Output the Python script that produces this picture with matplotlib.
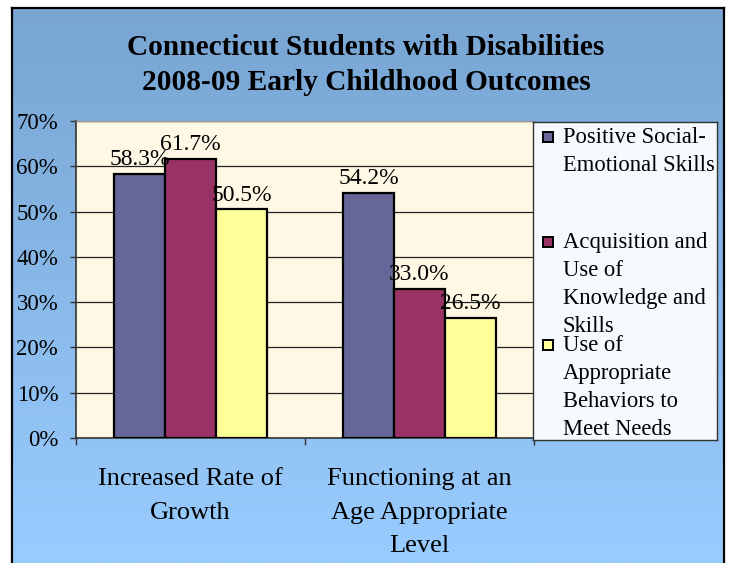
import numpy as np
import matplotlib.pyplot as plt
from matplotlib.patches import Rectangle

plt.rcParams['font.family'] = ['Liberation Serif', 'DejaVu Serif']

categories = ["Increased Rate of\nGrowth", "Functioning at an\nAge Appropriate\nLevel"]
series_names = ["Positive Social-\nEmotional Skills",
                "Acquisition and\nUse of\nKnowledge and\nSkills",
                "Use of\nAppropriate\nBehaviors to\nMeet Needs"]
social_emotional = [58.3, 54.2]
knowledge_skills = [61.7, 33.0]
appropriate_behaviors = [50.5, 26.5]
yticks = [0, 10, 20, 30, 40, 50, 60, 70]

colors = ["#666699", "#993366", "#FFFF99"]
W, H = 734, 563

fig = plt.figure(figsize=(W / 100, H / 100), dpi=100)
fig.patch.set_facecolor("white")

# blue gradient backdrop panel
bg = fig.add_axes([12 / W, 0, (724 - 12) / W, (H - 8) / H], zorder=0)
top_c = np.array([0x78, 0xA5, 0xD2]) / 255
bot_c = np.array([0x99, 0xCC, 0xFF]) / 255
t = np.linspace(0, 1, 256)[:, None]
grad = top_c[None, :] * (1 - t) + bot_c[None, :] * t
bg.imshow(grad[:, None, :], aspect="auto", extent=[0, 1, 0, 1], origin="upper")
bg.set_xlim(0, 1)
bg.set_ylim(0, 1)
bg.set_xticks([])
bg.set_yticks([])
bg.spines["bottom"].set_visible(False)
for side in ["left", "top", "right"]:
    bg.spines[side].set_linewidth(1.6)
    bg.spines[side].set_color("black")

fig.text(366 / W, 1 - 65 / H,
         "Connecticut Students with Disabilities\n2008-09 Early Childhood Outcomes",
         ha="center", va="center", fontsize=21.2, fontweight="bold",
         linespacing=1.4, zorder=5)

# main plot area
ax = fig.add_axes([76 / W, 1 - 438 / H, (534 - 76) / W, (438 - 121) / H], zorder=2)
ax.set_facecolor("#FFF8E4")
x = np.arange(len(categories)) + 0.5
bw = 0.223
all_series = [social_emotional, knowledge_skills, appropriate_behaviors]
for i, (vals, col) in enumerate(zip(all_series, colors)):
    xs = x + (i - 1) * bw
    ax.bar(xs, vals, width=bw, color=col, edgecolor="black", linewidth=1.6, zorder=3)
    for xi, v in zip(xs, vals):
        ax.text(xi, v + 0.8, f"{v:.1f}%", ha="center", va="bottom",
                fontsize=17, zorder=4)

ax.set_xlim(0, 2)
ax.set_ylim(0, 70)
ax.set_yticks(yticks)
ax.set_yticklabels([f"{v}%" for v in yticks], fontsize=16.5)
ax.yaxis.grid(True, color="#222222", linewidth=0.9)
ax.set_axisbelow(True)
ax.set_xticks([0, 1, 2])
ax.set_xticklabels([])
ax.tick_params(axis="y", direction="out", length=4.3, width=1, color="#333333", pad=8.5)
ax.tick_params(axis="x", direction="out", length=5, width=1, color="#333333")
for side in ["left", "bottom"]:
    ax.spines[side].set_color("#333333")
    ax.spines[side].set_linewidth(1.2)
for side in ["top", "right"]:
    ax.spines[side].set_color("#999999")
    ax.spines[side].set_linewidth(1.0)

for xi, lab in zip(x, categories):
    ax.text(xi, -6.6, lab, ha="center", va="top", fontsize=19, linespacing=1.69)

# legend box drawn in pixel coordinates
lg = fig.add_axes([533 / W, 1 - 440 / H, (717 - 533) / W, (440 - 122) / H], zorder=6)
lg.set_xlim(533, 717)
lg.set_ylim(440, 122)
lg.set_facecolor("#F4FAFE")
lg.set_xticks([])
lg.set_yticks([])
for sp in lg.spines.values():
    sp.set_color("#333333")
    sp.set_linewidth(1.0)
entry_y = [137, 242, 345]
line_step = 28
for name, col, yy in zip(series_names, colors, entry_y):
    lg.add_patch(Rectangle((543, yy - 5), 10, 10, facecolor=col,
                           edgecolor="black", linewidth=1.4))
    for k, line in enumerate(name.split("\n")):
        lg.text(563, yy + 6 + k * line_step, line, ha="left", va="baseline",
                fontsize=16.3)

fig.savefig("out.png", dpi=100)
